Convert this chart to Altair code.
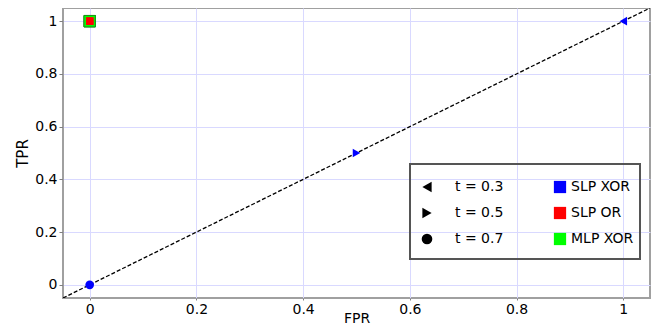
import altair as alt
import pandas as pd

# --- data ---
models = ["SLP XOR", "SLP XOR", "SLP XOR", "SLP OR", "SLP OR", "SLP OR", "MLP XOR", "MLP XOR", "MLP XOR"]
thresholds = ["t = 0.3", "t = 0.5", "t = 0.7"] * 3
fpr = [1.0, 0.5, 0.0, 0.0, 0.0, 0.0, 0.0, 0.0, 0.0]
tpr = [1.0, 0.5, 0.0, 1.0, 1.0, 1.0, 1.0, 1.0, 1.0]

model_names = ["SLP XOR", "SLP OR", "MLP XOR"]
model_colors = ["#0000ff", "#ff0000", "#00ff00"]
t_names = ["t = 0.3", "t = 0.5", "t = 0.7"]
t_shapes = ["triangle-left", "triangle-right", "circle"]

diag = [-0.05, 1.05]
ticks = [0, 0.2, 0.4, 0.6, 0.8, 1]

df = pd.DataFrame({"model": models, "t": thresholds, "FPR": fpr, "TPR": tpr})
diag_df = pd.DataFrame({"FPR": diag, "TPR": diag})

FONT = "DejaVu Sans"

xscale = alt.Scale(domain=[-0.05, 1.05], nice=False, zero=False)
yscale = alt.Scale(domain=[-0.05, 1.05], nice=False, zero=False)

xaxis = alt.Axis(values=ticks, format="~g", title="FPR", titleY=24, titleBaseline="alphabetic",
                 titleFontWeight="normal", titleFontSize=14, labelFontSize=14, labelPadding=2,
                 tickSize=2, labelFlush=False)
yaxis = alt.Axis(values=ticks, format="~g", title="TPR", titleX=-36, titleBaseline="alphabetic",
                 titleFontWeight="normal", titleFontSize=15, labelFontSize=14, labelPadding=2,
                 tickSize=4, labelFlush=False)

color_scale = alt.Scale(domain=model_names, range=model_colors)
shape_scale = alt.Scale(domain=t_names, range=t_shapes)

line = alt.Chart(diag_df).mark_line(color="black", strokeDash=[4, 2], strokeWidth=1.3, clip=True).encode(
    x=alt.X("FPR:Q", scale=xscale, axis=xaxis),
    y=alt.Y("TPR:Q", scale=yscale, axis=yaxis),
)

color_legend = alt.Legend(orient="none", legendX=490, legendY=172, title=None, symbolType="square",
                          symbolSize=150, symbolStrokeWidth=0, symbolOpacity=1, labelFontSize=14,
                          labelOffset=4, rowPadding=12, padding=0, labelFont=FONT)
shape_legend = alt.Legend(orient="none", legendX=357, legendY=172, title=None,
                          symbolSize=113, symbolFillColor="black", symbolStrokeWidth=0,
                          symbolOpacity=1, labelFontSize=14, labelOffset=21, rowPadding=12,
                          padding=0, labelFont=FONT)

mlp = alt.Chart(df).transform_filter(alt.datum.model == "MLP XOR").mark_point(
    filled=True, shape="square", size=130, opacity=1, stroke="#1a8a1a", strokeWidth=0.8).encode(
    x=alt.X("FPR:Q", scale=xscale),
    y=alt.Y("TPR:Q", scale=yscale),
    color=alt.Color("model:N", scale=color_scale, legend=color_legend),
)
slp_or = alt.Chart(df).transform_filter(alt.datum.model == "SLP OR").mark_point(
    filled=True, shape="square", size=55, opacity=1).encode(
    x=alt.X("FPR:Q", scale=xscale),
    y=alt.Y("TPR:Q", scale=yscale),
    color=alt.Color("model:N", scale=color_scale, legend=color_legend),
)
slp_xor = alt.Chart(df).transform_filter(alt.datum.model == "SLP XOR").mark_point(
    filled=True, size=75, opacity=1).encode(
    x=alt.X("FPR:Q", scale=xscale),
    y=alt.Y("TPR:Q", scale=yscale),
    color=alt.Color("model:N", scale=color_scale, legend=color_legend),
    shape=alt.Shape("t:N", scale=shape_scale, legend=shape_legend),
)

frame = alt.Chart(diag_df).mark_rect(fill=None, stroke="#555555", strokeWidth=2).encode(
    x=alt.value(347), x2=alt.value(577), y=alt.value(156), y2=alt.value(251)
)

chart = alt.layer(line, mlp, slp_or, slp_xor, frame).properties(
    width=587, height=290,
    autosize=alt.AutoSizeParams(type="none"),
    padding={"left": 55, "top": 0, "right": 2, "bottom": 26},
).configure(font=FONT).configure_view(
    stroke="#a0a0a0", strokeWidth=2
).configure_axis(
    grid=True, gridColor="#d9d9ff", gridWidth=1, domain=False,
    tickColor="#808080", labelColor="black", titleColor="black",
    labelFont=FONT, titleFont=FONT,
)

chart.save("out.html", embed_options={"renderer": "svg", "actions": False})
